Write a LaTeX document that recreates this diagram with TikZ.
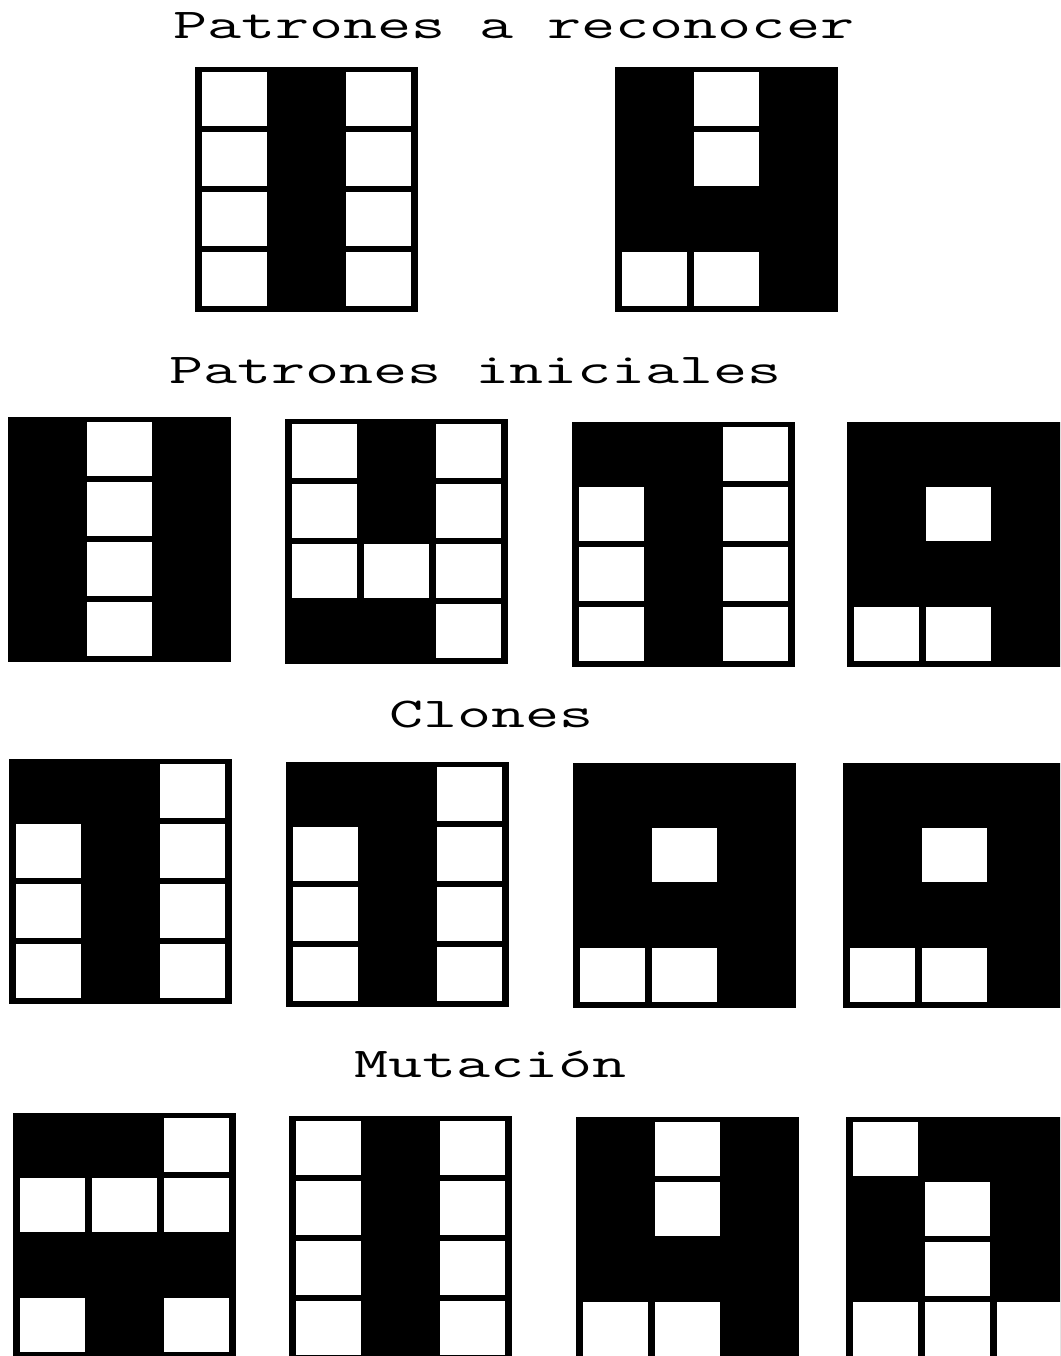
\documentclass[tikz,border=0pt]{standalone}
\usepackage{graphicx}
\tikzset{
  ttl/.style={anchor=base west, inner sep=0pt, outer sep=0pt,
    font=\fontsize{42.5}{50}\selectfont\ttfamily},
}
\newcommand{\ttlbox}[1]{\scalebox{1.556}[1]{#1}}
\newcommand{\patgrid}[3]{%
  \fill[black] (#1,#2) rectangle ++(223,245);
  \foreach \c/\r in {#3}
    \fill[white] ({#1+7+72*\c},{#2+5+60*\r}) rectangle ++(65,54);
}
\begin{document}
\begin{tikzpicture}[x=1pt,y=-1pt]
\useasboundingbox (0,0) rectangle (1060,1356);
\clip (0,0) rectangle (1060,1356);
\fill[white] (0,0) rectangle (1060,1356);

% titles
\node[ttl] (t1) at (173,39) {\ttlbox{Patrones a reconocer}};
\node[ttl] (t2) at (169,383) {\ttlbox{Patrones iniciales}};
\node[ttl] (t3) at (389,727) {\ttlbox{Clones}};
\node[ttl] (t4) at (354,1077) {\ttlbox{Mutación}};

% patrones a reconocer
\patgrid{195}{67}{0/0,2/0,0/1,2/1,0/2,2/2,0/3,2/3}
\patgrid{615}{67}{1/0,1/1,0/3,1/3}

% patrones iniciales
\patgrid{8}{417}{1/0,1/1,1/2,1/3}
\patgrid{285}{419}{0/0,2/0,0/1,2/1,0/2,1/2,2/2,2/3}
\patgrid{572}{422}{2/0,0/1,2/1,0/2,2/2,0/3,2/3}
\patgrid{847}{422}{1/1,0/3,1/3}

% clones
\patgrid{9}{759}{2/0,0/1,2/1,0/2,2/2,0/3,2/3}
\patgrid{286}{762}{2/0,0/1,2/1,0/2,2/2,0/3,2/3}
\patgrid{573}{763}{1/1,0/3,1/3}
\patgrid{843}{763}{1/1,0/3,1/3}

% mutacion
\patgrid{13}{1113}{2/0,0/1,1/1,2/1,0/3,2/3}
\patgrid{289}{1116}{0/0,2/0,0/1,2/1,0/2,2/2,0/3,2/3}
\patgrid{576}{1117}{1/0,1/1,0/3,1/3}
\patgrid{846}{1117}{0/0,1/1,1/2,0/3,1/3,2/3}
\end{tikzpicture}
\end{document}
